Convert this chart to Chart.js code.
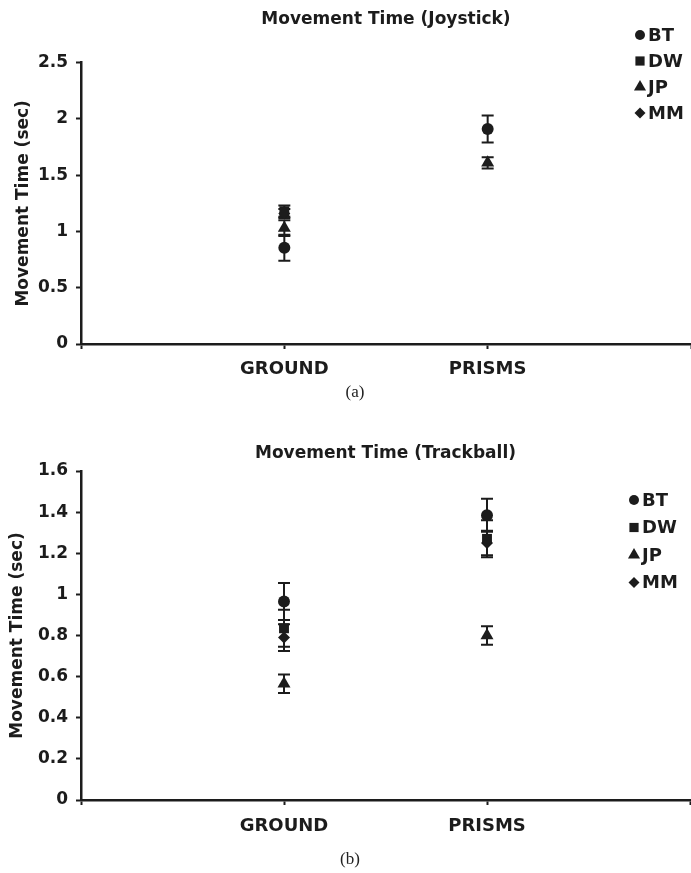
<!DOCTYPE html>
<html>
<head>
<meta charset="utf-8">
<script src="https://cdn.jsdelivr.net/npm/chart.js"></script>
<style>
  html, body { margin: 0; padding: 0; background: #fff; overflow: hidden; }
  #wrap { position: relative; width: 691px; height: 873px; overflow: hidden; }
  canvas { position: absolute; left: 0; }
  #chartA { top: 0; }
  #chartB { top: 420px; }
  .caption { position: absolute; width: 60px; text-align: center; font-family: "Liberation Serif", serif; font-size: 17px; color: #222; }
</style>
</head>
<body>
<div id="wrap">
  <canvas id="chartA" width="701" height="420"></canvas>
  <canvas id="chartB" width="701" height="453"></canvas>
  <div class="caption" style="left:325px; top:382px;">(a)</div>
  <div class="caption" style="left:320px; top:849px;">(b)</div>
</div>
<script>
// Movement time per subject, ground vs prisms, with error bars
const subjects = ["BT", "DW", "JP", "MM"];
const conditions = ["GROUND", "PRISMS"];
const markers = ["circle", "rect", "triangle", "rectRot"];

// (a) joystick - DW and MM show no prisms point in the figure
const joyMeans = [
    [0.855, 1.91],  // BT
    [1.18, null],   // DW
    [1.03, 1.61],   // JP
    [1.16, null]    // MM
];
const joyErrors = [
    [0.115, 0.12],
    [0.05, null],
    [0.07, 0.05],
    [0.04, null]
];
const joyTicks = [0, 0.5, 1, 1.5, 2, 2.5];

// (b) trackball
const trackMeans = [
    [0.965, 1.385],
    [0.835, 1.27],
    [0.565, 0.80],
    [0.79, 1.25]
];
const trackErrors = [
    [0.09, 0.08],
    [0.09, 0.09],
    [0.045, 0.045],
    [0.065, 0.06]
];
const trackTicks = [0, 0.2, 0.4, 0.6, 0.8, 1, 1.2, 1.4, 1.6];

const xTickValues = [0, 1, 2, 3];

const ink = "#1c1c1c";
const boldFont = "DejaVu Sans";
const pointSizes = [6, 7, 7.5, 6];

// === ERROR BARS (drawn under the markers) ===
const errorBars = {
    id: "errorBars",
    beforeDatasetsDraw(chart) {
        const { ctx, scales: { x, y } } = chart;
        ctx.save();
        ctx.strokeStyle = ink;
        ctx.lineWidth = 2;
        chart.data.datasets.forEach(ds => {
            ds.data.forEach(p => {
                if (p.err == null) return;
                const px = x.getPixelForValue(p.x);
                const top = y.getPixelForValue(p.y + p.err);
                const bot = y.getPixelForValue(p.y - p.err);
                ctx.beginPath();
                ctx.moveTo(px, top); ctx.lineTo(px, bot);
                ctx.moveTo(px - 6, top); ctx.lineTo(px + 6, top);
                ctx.moveTo(px - 6, bot); ctx.lineTo(px + 6, bot);
                ctx.stroke();
            });
        });
        ctx.restore();
    }
};

// === LEGEND IN THE TOP RIGHT CORNER ===
const sideLegend = {
    id: "sideLegend",
    afterDraw(chart, args, o) {
        const ctx = chart.ctx;
        ctx.save();
        ctx.fillStyle = ink;
        ctx.font = `bold 18px "${boldFont}"`;
        ctx.textBaseline = "middle";
        chart.data.datasets.forEach((ds, i) => {
            const y = o.top + i * o.step;
            Chart.helpers.drawPoint(ctx, {
                pointStyle: ds.pointStyle,
                radius: o.sizes[i],
                rotation: 0,
                borderWidth: 0
            }, o.x, y);
            ctx.fillText(ds.label, o.x + 8, y + 1);
        });
        ctx.restore();
    }
};

function buildDatasets(means, errors) {
    return subjects.map((name, i) => ({
        label: name,
        data: conditions
            .map((c, j) => means[i][j] == null ? null : { x: j + 1, y: means[i][j], err: errors[i][j] })
            .filter(Boolean),
        pointStyle: markers[i],
        pointRadius: pointSizes[i],
        pointBackgroundColor: ink,
        pointBorderColor: ink,
        pointBorderWidth: 0,
        showLine: false
    }));
}

function makeChart(id, titleText, means, errors, yTicks, lay) {
    return new Chart(document.getElementById(id), {
        type: "scatter",
        data: { datasets: buildDatasets(means, errors) },
        options: {
            responsive: false,
            animation: false,
            events: [],
            layout: { padding: { left: 0, right: 1, top: 0, bottom: lay.bottom } },
            scales: {
                x: {
                    type: "linear",
                    min: 0,
                    max: 3,
                    afterBuildTicks: s => { s.ticks = xTickValues.map(v => ({ value: v })); },
                    afterFit: s => { s.height = 40; },
                    ticks: {
                        autoSkip: false,
                        maxRotation: 0,
                        padding: lay.xPad,
                        color: ink,
                        font: { family: boldFont, size: 18, weight: "bold" },
                        callback: v => (v >= 1 && v <= conditions.length) ? conditions[v - 1] : ""
                    },
                    grid: { drawOnChartArea: false, tickLength: 5, tickWidth: 2, tickColor: ink },
                    border: { color: ink, width: 2.5 }
                },
                y: {
                    min: 0,
                    max: yTicks[yTicks.length - 1],
                    afterBuildTicks: s => { s.ticks = yTicks.map(v => ({ value: v })); },
                    afterFit: s => { s.width = 81; },
                    ticks: {
                        padding: 8,
                        color: ink,
                        font: { family: boldFont, size: 17, weight: "bold" },
                        callback: v => String(v)
                    },
                    grid: { drawOnChartArea: false, tickLength: 5, tickWidth: 2, tickColor: ink },
                    border: { color: ink, width: 2.5 },
                    title: {
                        display: true,
                        text: "Movement Time (sec)",
                        color: ink,
                        padding: { top: lay.yTitlePad, bottom: 0 },
                        font: { family: boldFont, size: 17, weight: "bold" }
                    }
                }
            },
            plugins: {
                legend: { display: false },
                tooltip: { enabled: false },
                title: {
                    display: true,
                    text: titleText,
                    fullSize: false,
                    color: ink,
                    font: { family: boldFont, size: 17, weight: "bold" },
                    padding: { top: lay.titleTop, bottom: lay.titleBottom }
                },
                sideLegend: lay.legend
            }
        },
        plugins: [errorBars, sideLegend]
    });
}

document.addEventListener("DOMContentLoaded", () => {
    makeChart("chartA", "Movement Time (Joystick)", joyMeans, joyErrors, joyTicks, {
        bottom: 36, xPad: 10, yTitlePad: 13.8, titleTop: 9.8, titleBottom: 32.5,
        legend: { x: 640, top: 35, step: 26, sizes: [5, 6.5, 7, 5.5] }
    });
    makeChart("chartB", "Movement Time (Trackball)", trackMeans, trackErrors, trackTicks, {
        bottom: 33, xPad: 11, yTitlePad: 7.8, titleTop: 23.8, titleBottom: 6.8,
        legend: { x: 634, top: 80, step: 27.5, sizes: [5, 6.5, 7, 5.5] }
    });
});
</script>
</body>
</html>
